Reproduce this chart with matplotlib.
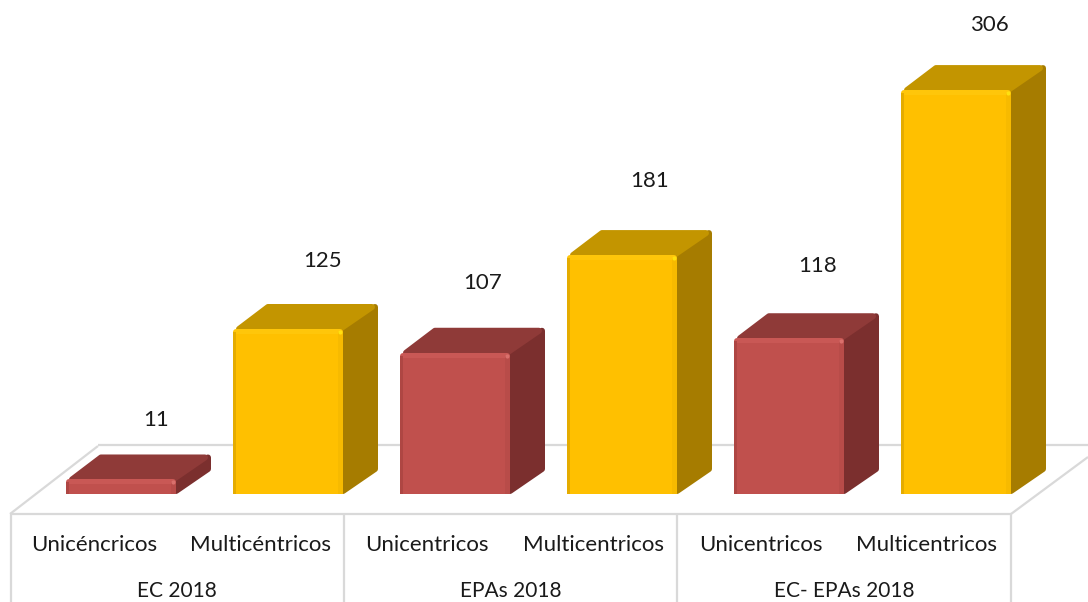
import matplotlib
matplotlib.use("Agg")
import matplotlib.pyplot as plt
from matplotlib.patches import Polygon, Rectangle

plt.rcParams['font.family'] = ['Lato', 'DejaVu Sans']

# Chart data
bar_labels = ["Unicéncricos", "Multicéntricos", "Unicentricos",
              "Multicentricos", "Unicentricos", "Multicentricos"]
group_labels = ["EC 2018", "EPAs 2018", "EC- EPAs 2018"]
values = [11, 125, 107, 181, 118, 306]
series_kind = ["uni", "multi", "uni", "multi", "uni", "multi"]

# Face colours of the 3D columns
PALETTE = {
    "uni": dict(front="#C0504D", top="#8F3A38", side="#7B2F2E",
                bevel="#C95855", edge="#AE4643", rim="#B84C49", glint="#D9706C"),
    "multi": dict(front="#FFC000", top="#C39500", side="#A67C00",
                  bevel="#FFC60A", edge="#E5AC00", rim="#F7BA00", glint="#FFE010"),
}
TEXT = "#1a1a1a"
FLOOR = "#D9D9D9"
FONT_SIZE = 16
GROUP_FONT_SIZE = 15

# Layout in canvas pixels, converted to data units below
W, H = 1088, 602
BASE_Y = 494
PX_PER_UNIT = 1.32
X0, STEP = 121, 167
BAR_W = 110
DEPTH_X, DEPTH_Y = 32, 25
PT_PER_PX = 0.72

fig = plt.figure(figsize=(W / 100, H / 100), dpi=100)
ax = fig.add_axes([0, 0, 1, 1])
ax.set_xlim(-X0 / STEP, (W - X0) / STEP)
ax.set_ylim((BASE_Y - H) / PX_PER_UNIT, BASE_Y / PX_PER_UNIT)
ax.axis("off")


def dx(px):
    return px / STEP


def dy(px):
    return px / PX_PER_UNIT


def at(px, py):
    """Canvas pixel position to data coordinates."""
    return (px - X0) / STEP, (BASE_Y - py) / PX_PER_UNIT


def floor_line(p, q, z=1):
    a, b = at(*p), at(*q)
    ax.plot([a[0], b[0]], [a[1], b[1]], color=FLOOR, lw=1.6,
            solid_capstyle="butt", zorder=z)


# Floor outline and category separators
floor_line((98, 445), (1088, 445))
floor_line((10, 514), (1012, 514))
floor_line((10, 514), (98, 446))
floor_line((1011, 514), (1088, 457))
for sep_x in (11, 344, 677, 1011):
    floor_line((sep_x, 514), (sep_x, 602))


def rounded(points, color, radius_px, z):
    """Filled polygon whose corners are softened by a round-joined outline."""
    ax.add_patch(Polygon(points, closed=True, fc=color, ec=color,
                         lw=2 * radius_px * PT_PER_PX, joinstyle="round", zorder=z))


def column(i, value, kind):
    c = PALETTE[kind]
    half = dx(BAR_W) / 2
    l, r = i - half, i + half
    ddx, ddy = dx(DEPTH_X), dy(DEPTH_Y)
    rad = 3
    ix, iy = dx(rad), dy(rad)

    # Right side and top faces
    rounded([(r, iy), (r + ddx, ddy), (r + ddx, value + ddy - iy), (r, value)],
            c["side"], rad, 3)
    rounded([(l + ix * 2, value), (l + ddx + ix, value + ddy - iy),
             (r + ddx - ix, value + ddy - iy), (r - ix, value)],
            c["top"], rad, 4)

    # Front face: square at the floor, rounded at the top
    rounded([(l + ix, value * 0.5), (l + ix, value - iy),
             (r - ix, value - iy), (r - ix, value * 0.5)], c["bevel"], rad, 5)
    ax.add_patch(Rectangle((l, 0), r - l, max(value - dy(5), dy(4)),
                           fc=c["front"], ec="none", zorder=6))
    ax.add_patch(Rectangle((l, 0), dx(2.5), max(value - dy(3), dy(4)),
                           fc=c["edge"], ec="none", zorder=7))
    ax.add_patch(Rectangle((r - dx(5), 0), dx(5), max(value - dy(3), dy(4)),
                           fc=c["rim"], ec="none", zorder=7))
    ax.plot([r - dx(3)], [value - dy(3)], "o", ms=3, mfc=c["glint"],
            mec="none", zorder=8)


for i, (v, k) in enumerate(zip(values, series_kind)):
    column(i, v, k)

# Value labels floating above each column, offsets in pixels from the front top
label_shift = [35, 35, 28, 28, 29, 33]
label_lift = [59, 68, 70, 74, 72, 65]
for i, (v, sx, lift) in enumerate(zip(values, label_shift, label_lift)):
    ax.text(i + dx(sx), v + dy(lift), str(v), ha="center", va="center",
            fontsize=FONT_SIZE, color=TEXT, zorder=9)

# Two-level category axis
LABEL_STEP = 166.6
for i, name in enumerate(bar_labels):
    x, y = at(94 + LABEL_STEP * i, 545)
    ax.text(x, y, name, ha="center", va="center", fontsize=FONT_SIZE, color=TEXT)
for i, name in enumerate(group_labels):
    x, y = at(177 + 333.5 * i, 591)
    ax.text(x, y, name, ha="center", va="center", fontsize=GROUP_FONT_SIZE, color=TEXT)

fig.savefig("out.png", dpi=100, facecolor="white")
